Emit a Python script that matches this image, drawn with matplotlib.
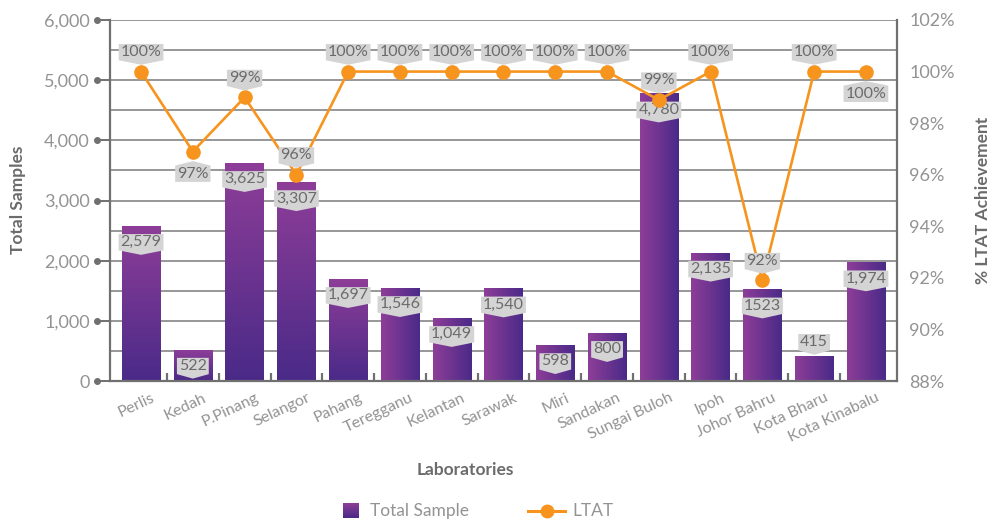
import numpy as np
import matplotlib
matplotlib.use('Agg')
import matplotlib.pyplot as plt
from matplotlib.path import Path
from matplotlib.colors import LinearSegmentedColormap
from matplotlib.lines import Line2D
import matplotlib.transforms as mtransforms

labs = ['Perlis', 'Kedah', 'P.Pinang', 'Selangor', 'Pahang', 'Teregganu', 'Kelantan',
        'Sarawak', 'Miri', 'Sandakan', 'Sungai Buloh', 'Ipoh', 'Johor Bahru',
        'Kota Bharu', 'Kota Kinabalu']
samples = [2579, 522, 3625, 3307, 1697, 1546, 1049, 1540, 598, 800, 4780, 2135, 1523, 415, 1974]
sample_text = ['2,579', '522', '3,625', '3,307', '1,697', '1,546', '1,049', '1,540',
               '598', '800', '4,780', '2,135', '1523', '415', '1,974']
sample_above = [13]    # label sits over the bar instead of inside
ltat = [100, 96.9, 99, 96, 100, 100, 100, 100, 100, 100, 98.9, 100, 91.9, 100, 100]
ltat_below = [1, 14]   # labels placed under the point

plt.rcParams['font.family'] = ['Lato', 'DejaVu Sans']

GREY = '#707070'
TXT = '#939393'
LBL = '#6b6b6b'
ORANGE = '#F7941D'
BOX = '#d4d4d4'
purple = LinearSegmentedColormap.from_list('purp', ['#4A2A88', '#8E3E98'])


def box_down(x0, y0, w, h, mutation_size):
    p = mutation_size * 0.12
    x0, y0, w, h = x0 - p, y0 - p * 0.6, w + 2 * p, h + 1.2 * p
    t = mutation_size * 0.28
    v = [(x0, y0), (x0 + w / 2, y0 - t), (x0 + w, y0), (x0 + w, y0 + h), (x0, y0 + h), (x0, y0)]
    return Path(v, closed=True)


def box_up(x0, y0, w, h, mutation_size):
    p = mutation_size * 0.12
    x0, y0, w, h = x0 - p, y0 - p * 0.6, w + 2 * p, h + 1.2 * p
    t = mutation_size * 0.28
    v = [(x0, y0), (x0 + w, y0), (x0 + w, y0 + h), (x0 + w / 2, y0 + h + t), (x0, y0 + h), (x0, y0)]
    return Path(v, closed=True)


fig = plt.figure(figsize=(9.95, 5.21), dpi=100)
ax = fig.add_axes([110 / 995, 1 - 381 / 521, 787 / 995, 361 / 521])
x = np.arange(len(labs))

bars = ax.bar(x, samples, width=0.74, color='none', zorder=2)
for i, b in enumerate(bars):
    x0 = b.get_x()
    x1 = x0 + b.get_width()
    if i < 5:
        grad = np.linspace(0, 1, 256).reshape(-1, 1)
    else:
        grad = np.linspace(1, 0, 256).reshape(1, -1)
    im = ax.imshow(grad, cmap=purple, extent=[x0, x1, 0, b.get_height()],
                   aspect='auto', origin='lower', zorder=2, interpolation='bicubic')
    im.set_clip_path(b)

for i, v in enumerate(samples):
    dy = 10 if i in sample_above else -11.8
    ax.annotate(sample_text[i], (i, v), xytext=(0, dy), textcoords='offset points',
                ha='center', va='center', fontsize=11.5, color=LBL, zorder=5,
                bbox=dict(boxstyle=box_down, fc=BOX, ec='none'))

ax.set_xlim(-0.6, 14.6)
ax.set_ylim(0, 6000)
ax.set_yticks(np.arange(0, 6001, 1000))
ax.set_yticks(np.arange(500, 6000, 1000), minor=True)
ax.set_yticklabels([f'{v:,}' for v in range(0, 6001, 1000)])
ax.yaxis.grid(True, which='both', color='#7a7a7a', lw=1.1)
ax.set_axisbelow(True)
ax.tick_params(axis='y', which='major', direction='out', length=9.5, width=1.4,
               color=GREY, labelsize=13, labelcolor=TXT, pad=5)
ax.tick_params(axis='y', which='minor', length=0)
ax.plot([-0.0165] * 7, np.arange(0, 6001, 1000), 'o', ms=4, color=GREY,
        transform=ax.get_yaxis_transform(), clip_on=False, zorder=6)

ax.set_xticks(x)
ax.set_xticklabels(labs, rotation=25, ha='right', rotation_mode='anchor',
                   fontsize=11.5, color=TXT)
ax.set_xticks(np.arange(0.5, 14, 1), minor=True)
ax.tick_params(axis='x', which='major', length=0, pad=7)
ax.tick_params(axis='x', which='minor', direction='in', length=6, width=1.6, color=GREY)
offset = mtransforms.ScaledTranslation(10 / 100, 0, fig.dpi_scale_trans)
for t in ax.get_xticklabels():
    t.set_transform(t.get_transform() + offset)

for s in ['left', 'bottom', 'right', 'top']:
    ax.spines[s].set_color(GREY)
    ax.spines[s].set_linewidth(1.6)
ax.spines['top'].set_visible(False)

ax2 = ax.twinx()
ax2.plot(x, ltat, color=ORANGE, lw=1.9, marker='o', ms=9.5, zorder=4)
for i, v in enumerate(ltat):
    below = i in ltat_below
    ax2.annotate(f'{round(v)}%', (i, v), xytext=(0, -16 if below else 14),
                 textcoords='offset points', ha='center', va='center', fontsize=11.5,
                 color=LBL, zorder=5,
                 bbox=dict(boxstyle=box_up if below else box_down, fc=BOX, ec='none'))
ax2.set_ylim(88, 102)
ax2.set_yticks(np.arange(88, 103, 2))
ax2.set_yticklabels([f'{v}%' for v in range(88, 103, 2)])
ax2.tick_params(axis='y', length=0, labelsize=13, labelcolor=TXT, pad=9)
for s in ['left', 'bottom', 'right', 'top']:
    ax2.spines[s].set_visible(False)

fig.text(18 / 995, 1 - 200 / 521, 'Total Samples', rotation=90, ha='center', va='center',
         fontsize=12.5, fontweight='bold', color=LBL)
fig.text(983 / 995, 1 - 200 / 521, '% LTAT Achievement', rotation=90, ha='center', va='center',
         fontsize=12.5, fontweight='bold', color=LBL)
fig.text(465 / 995, 1 - 470 / 521, 'Laboratories', ha='center', va='center',
         fontsize=12.5, fontweight='bold', color=LBL)

# legend
lax = fig.add_axes([343 / 995, 1 - 518 / 521, 16 / 995, 15 / 521])
lax.imshow(np.linspace(0, 1, 64).reshape(-1, 1), cmap=purple, aspect='auto', origin='lower')
lax.axis('off')
fig.text(370 / 995, 1 - 511 / 521, 'Total Sample', ha='left', va='center', fontsize=12.5, color=TXT)
fig.add_artist(Line2D([528 / 995, 565 / 995], [1 - 511 / 521] * 2, color=ORANGE, lw=2.2,
                      transform=fig.transFigure))
fig.add_artist(Line2D([547 / 995], [1 - 511 / 521], color=ORANGE, marker='o', ms=9,
                      transform=fig.transFigure))
fig.text(572 / 995, 1 - 511 / 521, 'LTAT', ha='left', va='center', fontsize=12.5, color=TXT)

fig.savefig('out.png', dpi=100)
